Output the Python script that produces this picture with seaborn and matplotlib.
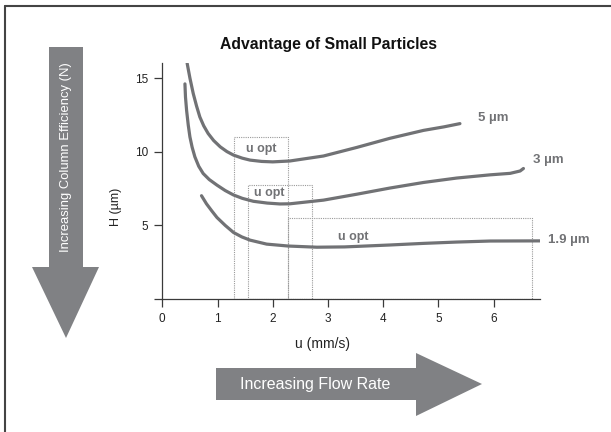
"""Van Deemter style plot: advantage of small particles"""
import numpy as np
import pandas as pd
import matplotlib
matplotlib.use('Agg')
import matplotlib.pyplot as plt
import seaborn as sns
from matplotlib.patches import Rectangle, Polygon
from matplotlib.lines import Line2D

# curve values
u_5 = [0.45, 0.50, 0.56, 0.62, 0.68, 0.75, 0.83, 0.93, 1.05, 1.17, 1.29, 1.45, 1.59, 1.80,
       2.00, 2.31, 2.92, 3.52, 4.12, 4.73, 5.10, 5.39]
h_5 = [16.0, 15.0, 13.95, 13.1, 12.35, 11.75, 11.23, 10.75, 10.32, 10.0, 9.76, 9.55, 9.42, 9.33,
       9.30, 9.36, 9.70, 10.28, 10.9, 11.44, 11.68, 11.9]
u_3 = [0.41, 0.42, 0.44, 0.47, 0.50, 0.54, 0.59, 0.66, 0.74, 0.85, 0.99, 1.14, 1.29, 1.45,
       1.65, 1.90, 2.13, 2.31, 2.92, 3.52, 4.12, 4.73, 5.33, 5.94, 6.30, 6.48, 6.54]
h_3 = [14.6, 13.7, 12.8, 11.8, 11.0, 10.3, 9.64, 9.0, 8.51, 8.1, 7.72, 7.35, 7.05, 6.82,
       6.62, 6.5, 6.44, 6.45, 6.7, 7.1, 7.52, 7.9, 8.2, 8.42, 8.52, 8.68, 8.85]
u_19 = [0.71, 0.80, 0.90, 0.99, 1.14, 1.29, 1.44, 1.59, 1.89, 2.28, 2.80, 3.30, 4.12, 4.73,
        5.33, 5.94, 6.84]
h_19 = [7.0, 6.45, 5.95, 5.52, 4.98, 4.5, 4.2, 3.98, 3.71, 3.58, 3.5, 3.52, 3.65, 3.76,
        3.85, 3.92, 3.93]

particles = ['5 µm', '3 µm', '1.9 µm']
label_x = [5.72, 6.72, 6.99]
label_y = [12.3, 9.4, 3.98]

# u opt boxes
opt_left = [1.30, 1.56, 2.28]
opt_right = [2.28, 2.71, 6.70]
opt_top = [11.0, 7.7, 5.47]
opt_text_x = [1.80, 1.93, 3.46]
opt_text_y = [10.2, 7.2, 4.2]

x_ticks = [0, 1, 2, 3, 4, 5, 6]
y_ticks = [0, 5, 10, 15]
y_tick_labels = ['', '5', '10', '15']

df = pd.concat([
    pd.DataFrame({'u': u_5, 'H': h_5, 'size': particles[0]}),
    pd.DataFrame({'u': u_3, 'H': h_3, 'size': particles[1]}),
    pd.DataFrame({'u': u_19, 'H': h_19, 'size': particles[2]}),
])

axis_c = '#3a3a3a'
sns.set_style('ticks')
plt.rcParams.update({
    'font.family': ['Liberation Sans', 'DejaVu Sans'],
    'xtick.bottom': True, 'ytick.left': True,
    'xtick.major.size': 6, 'ytick.major.size': 6,
    'xtick.major.width': 0.9, 'ytick.major.width': 0.9,
    'xtick.color': axis_c, 'ytick.color': axis_c,
    'xtick.direction': 'out', 'ytick.direction': 'out',
})

W, H = 611, 432
fig = plt.figure(figsize=(W / 100, H / 100), dpi=100)
ax = fig.add_axes([162.3 / W, 1 - 298.7 / H, (540 - 162.3) / W, (298.7 - 63.3) / H])

curve_c = '#717275'
sns.lineplot(data=df, x='u', y='H', hue='size', palette=[curve_c] * 3, sort=False,
             estimator=None, linewidth=2.3, legend=False, ax=ax, zorder=3)

for l, r, t in zip(opt_left, opt_right, opt_top):
    ax.add_patch(Rectangle((l, 0), r - l, t, fill=False, edgecolor='#9a9a9a',
                           linestyle=(0, (1, 1)), linewidth=0.8, zorder=2))
for x, y in zip(opt_text_x, opt_text_y):
    ax.text(x, y, 'u opt', ha='center', va='center', fontsize=9, fontweight='bold',
            color=curve_c, zorder=4)
for name, x, y in zip(particles, label_x, label_y):
    ax.text(x, y, name, ha='left', va='center', fontsize=9.5, fontweight='bold',
            color=curve_c, clip_on=False)

ax.set_xlim(0, 6.84)
ax.set_ylim(0, 16)
ax.set_xticks(x_ticks)
ax.set_yticks(y_ticks)
ax.set_yticklabels(y_tick_labels)
ax.tick_params(labelsize=8.5, labelcolor='#222222', pad=4)
for s in ['top', 'right']:
    ax.spines[s].set_visible(False)
for s in ['left', 'bottom']:
    ax.spines[s].set_color(axis_c)
    ax.spines[s].set_linewidth(0.9)
ax.set_xlabel('u (mm/s)', fontsize=10, color='#222222')
ax.set_ylabel('H (µm)', fontsize=9, color='#222222')
ax.xaxis.set_label_coords(0.425, -0.163)
ax.yaxis.set_label_coords(-0.107, 0.39)
fig.text(328 / W, 1 - 44 / H, 'Advantage of Small Particles', fontsize=11.3,
         fontweight='bold', color='#111111', ha='center', va='center')


def px(pts):
    return [(x / W, 1 - y / H) for x, y in pts]


arrow_c = '#808184'
down = px([(49, 47), (83, 47), (83, 267), (99, 267), (66, 338), (32, 267), (49, 267)])
fig.patches.append(Polygon(down, closed=True, facecolor=arrow_c, edgecolor='none',
                           transform=fig.transFigure))
fig.text(66 / W, 1 - 157 / H, 'Increasing Column Efficiency (N)', rotation=90, color='white',
         ha='center', va='center', fontsize=9.4)

right = px([(216, 368), (416, 368), (416, 353), (482, 384), (416, 416), (416, 400), (216, 400)])
fig.patches.append(Polygon(right, closed=True, facecolor=arrow_c, edgecolor='none',
                           transform=fig.transFigure))
fig.text(240 / W, 1 - 384 / H, 'Increasing Flow Rate', color='white', ha='left',
         va='center', fontsize=11.5)

# frame lines (top and left only, image is cropped)
fig.lines.append(Line2D([5 / W, 1], [1 - 6 / H, 1 - 6 / H], color='#444444', lw=1.5,
                        transform=fig.transFigure))
fig.lines.append(Line2D([5 / W, 5 / W], [0, 1 - 6 / H], color='#444444', lw=1.5,
                        transform=fig.transFigure))

fig.savefig('out.png', dpi=100)
plt.close()
